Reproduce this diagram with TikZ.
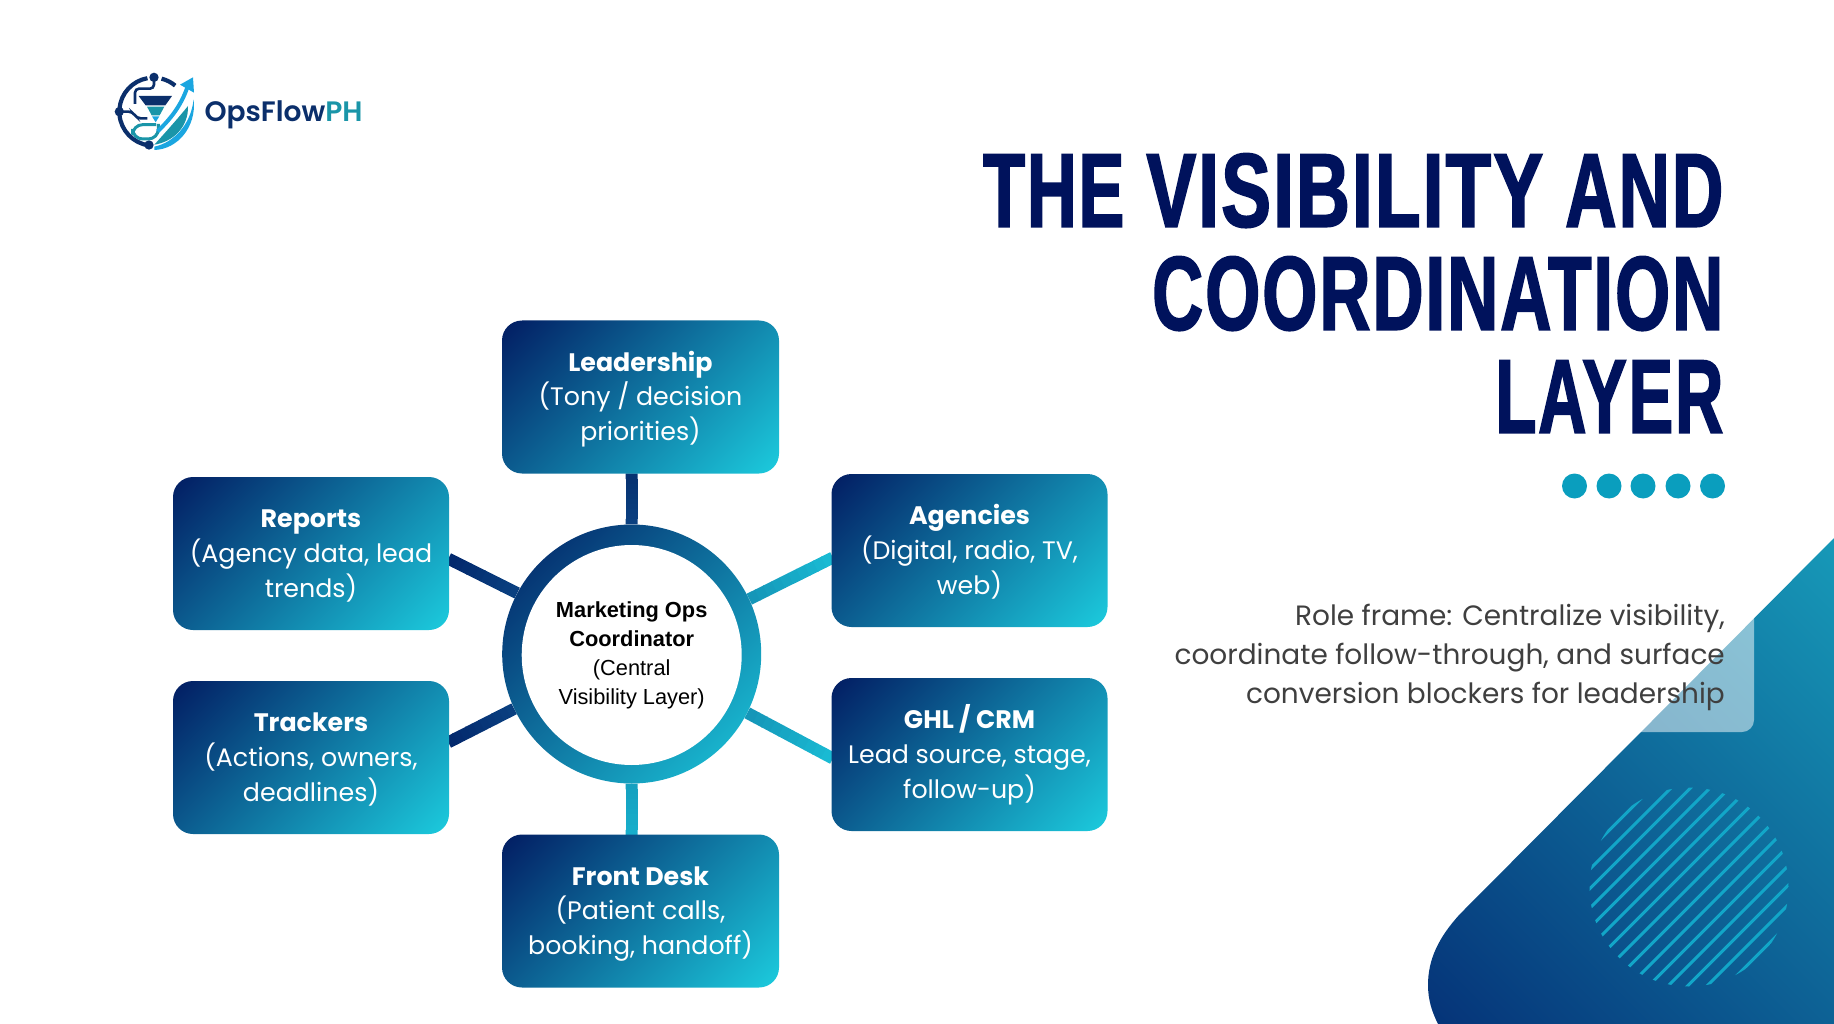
\documentclass[tikz,border=0pt]{standalone}
\usepackage{fontspec}
\usepackage{graphicx}
\usetikzlibrary{calc,backgrounds}
\setmainfont{Poppins}
\newfontfamily\titlefont[FakeStretch=0.687,FakeBold=1.6,LetterSpace=2]{Liberation Sans Bold}
\newfontfamily\hubfont{Liberation Sans}
\newfontfamily\logofont{Poppins SemiBold}
\definecolor{gdark}{HTML}{021C62}
\definecolor{gcyan}{HTML}{1CCCDE}
\definecolor{titleblue}{HTML}{00125C}
\definecolor{dotteal}{HTML}{0A9EBE}
\definecolor{bodygrey}{HTML}{3F3F3F}
\definecolor{bgdark}{HTML}{053378}
\definecolor{bglight}{HTML}{1799B8}
\definecolor{hatch}{HTML}{12A6C8}
\definecolor{logonavy}{HTML}{0B2F6B}
\definecolor{logoteal}{HTML}{1A95A8}
\definecolor{logocyan}{HTML}{1BA6E0}
\definecolor{lkA}{HTML}{0A4080}
\definecolor{lkB}{HTML}{06306F}
\definecolor{lkC}{HTML}{1596B8}
\definecolor{lkD}{HTML}{1ABED6}
\definecolor{lkE}{HTML}{02266B}
\definecolor{lkF}{HTML}{15A0C0}
\definecolor{lkG}{HTML}{18B0CC}
\tikzset{
  x=1pt,y=-1pt,
  gradbox/.style={shape=rectangle,rounded corners=20pt,inner sep=0pt,text=white,align=center,
    font=\fontsize{25.3}{34.8}\selectfont},
  hubring/.style={shape=circle,minimum size=259pt,inner sep=0pt},
  hubcore/.style={shape=circle,minimum size=220pt,inner sep=0pt,fill=white,text=black,align=center,
    font=\hubfont\fontsize{21.8}{29}\selectfont},
  linkline/.style={line width=12pt},
  dotnode/.style={shape=circle,minimum size=25pt,inner sep=0pt,fill=dotteal},
}
% 45-degree gradient from top-left to bottom-right of a rounded panel: cx,cy,w,h,radius
\newcommand\gradpanel[5]{%
  \begin{scope}
    \clip[rounded corners=#5] ({#1-#3/2},{#2-#4/2}) rectangle ({#1+#3/2},{#2+#4/2});
    \begin{scope}[transform canvas={shift={(#1,#2)},rotate=-45}]
      \pgfmathsetmacro\gA{(#3+#4)/2.8284}
      \shade[left color=gdark,right color=gcyan] (-\gA,-\gA) rectangle (\gA,\gA);
    \end{scope}
  \end{scope}}
\newcommand\gradbox[6]{%
  \gradpanel{#2}{#3}{#4}{#5}{20pt}
  \node[gradbox,minimum width=#4 pt,minimum height=#5 pt] (#1) at (#2,#3) {#6};}
\newcommand\gradlink[4]{\foreach \p in {0,10,...,90}{\draw[linkline,color=#4!\p!#3] ($(#1)!\p/100!(#2)$) -- ($(#1)!\p/100+0.11!(#2)$);}}
\newcommand\boxlabel[3]{\raisebox{-2pt}{\textbf{#1}}\strut\\\raisebox{-2pt}{#2}\\\raisebox{-2pt}{#3}\strut}
\begin{document}
\begin{tikzpicture}
\useasboundingbox (0,0) rectangle (1834,1024);
% background slab
\begin{scope}
  \clip (1834,538) -- (1460,914) .. controls (1438,938) and (1428,960) .. (1428,985)
  .. controls (1428,1000) and (1432,1012) .. (1438,1024) -- (1834,1024) -- cycle;
  \begin{scope}[transform canvas={shift={(1631,781)},rotate=45}]
    \shade[left color=bgdark,right color=bglight] (-315,-315) rectangle (315,315);
  \end{scope}
\end{scope}
\fill[white,opacity=.5,rounded corners=12pt] (1560,540) rectangle (1754,732);
\begin{scope}
  \clip (1689,887) circle (99.5);
  \foreach \k in {-7,...,7}{
    \draw[hatch,line width=3pt] ({1689+\k*9.75-150},{887+\k*9.75+150}) -- ({1689+\k*9.75+150},{887+\k*9.75-150});
  }
\end{scope}
% title and text
\node[anchor=north east,inner sep=0pt,align=right,text=titleblue,font=\titlefont\fontsize{105}{103}\selectfont] (title) at (1723.5,146.5)
  {\rule{0pt}{80pt}\scalebox{.95}[1]{THE} \scalebox{1.034}[1]{VISIBILITY} \scalebox{.985}[1]{AND}\\\scalebox{.98}[1]{COORDINATION}\\\scalebox{.925}[1]{LAYER}};
\foreach \i/\x in {1/1574.5,2/1609,3/1643,4/1678,5/1712.5}{\node[dotnode] (dot\i) at (\x,486) {};}
\node[anchor=north east,inner sep=0pt,align=right,text=bodygrey,font=\fontsize{27.95}{39}\selectfont] (roleframe) at (1725,595)
  {\rule{0pt}{30pt}Role frame: Centralize visibility,\\coordinate follow-through, and surface\\conversion blockers for leadership};
% hub and boxes
\gradpanel{631.7}{654}{259}{259}{129.5pt}
\node[hubring] (hub) at (631.7,654) {};
\node[hubcore] (hubcore) at (631.7,655) {\textbf{Marketing Ops}\\\textbf{Coordinator}\\(Central\\Visibility Layer)};
\gradbox{leadership}{640.5}{397}{277}{153}{\boxlabel{Leadership}{(Tony / decision}{priorities)}}
\gradbox{agencies}{969.5}{550.5}{276}{153}{\boxlabel{Agencies}{(Digital, radio, TV,}{web)}}
\gradbox{ghl}{969.5}{754.5}{276}{153}{\boxlabel{GHL / CRM}{Lead source, stage,}{follow-up)}}
\gradbox{reports}{311}{553.5}{276}{153}{\boxlabel{Reports}{(Agency data, lead}{trends)}}
\gradbox{trackers}{311}{757.5}{276}{153}{\boxlabel{Trackers}{(Actions, owners,}{deadlines)}}
\gradbox{frontdesk}{640.5}{911}{277}{153}{\boxlabel{Front Desk}{(Patient calls,}{booking, handoff)}}
\coordinate (pLead) at (631.7,474);
\coordinate (pAg) at (832,558);
\coordinate (pGhl) at (832,758);
\coordinate (pRep) at (449,559);
\coordinate (pTrk) at (449,742);
\coordinate (pFd) at (631.7,835);
\begin{scope}[on background layer]
  \gradlink{hub.north}{pLead}{lkA}{lkB}
  \gradlink{hub.25.8}{pAg}{lkC}{lkD}
  \gradlink{hub.-27.9}{pGhl}{lkC}{lkD}
  \gradlink{hub.152.8}{pRep}{lkA}{lkE}
  \gradlink{hub.205.6}{pTrk}{lkA}{lkE}
  \gradlink{hub.south}{pFd}{lkF}{lkG}
\end{scope}
% logo
\begin{scope}[shift={(90,50)},scale=1/3]
  \begin{scope}[logonavy,line width=4.2pt]
    \draw ({190+102*cos(100)},{185-102*sin(100)}) arc[start angle=-100,end angle=-175,radius=102];
    \draw ({190+102*cos(185)},{185-102*sin(185)}) arc[start angle=-185,end angle=-262,radius=102];
    \draw ({190+102*cos(76)},{185-102*sin(76)}) arc[start angle=-76,end angle=-50,radius=102];
    \fill (192,82) circle (14);
    \fill (88,185) circle (14);
    \fill (177,285) circle (14);
    \draw[line width=2.6pt,rounded corners=4pt] (192,82) -- (192,116) -- (135,116) -- (135,162);
    \draw[line width=2.6pt,rounded corners=4pt] (88,185) -- (128,185) -- (140,205) -- (172,205);
  \end{scope}
  \fill[logonavy] (146,138) -- (246,138) -- (226,166) -- (167,166) -- cycle;
  \fill[logoteal] (171,170) -- (223,170) -- (209,196) -- (185,196) -- cycle;
  \fill[logocyan] (186,199) -- (208,199) -- (197,217) -- cycle;
  \draw[logoteal,line width=3pt,rounded corners=10pt] (198,224) -- (128,224) -- (128,267) -- (205,267) -- (205,222);
  \fill[logoteal] (193,284) .. controls (240,232) and (268,200) .. (294,168) .. controls (296,232) and (248,276) .. (193,284) -- cycle;
  \fill[logocyan] (193,300) .. controls (262,298) and (320,232) .. (311,148) .. controls (302,226) and (250,278) .. (193,290) -- cycle;
  \draw[logocyan,line width=4pt] (203,244) .. controls (240,208) and (272,170) .. (292,112);
  \fill[logocyan] (270,104) -- (309,82) -- (312,128) -- cycle;
  \node[anchor=base west,inner sep=0pt,font=\logofont\fontsize{28.1}{30}\selectfont] (logotext) at (343,215)
    {\textcolor{logonavy}{OpsFlow}\textcolor{logoteal}{PH}};
\end{scope}
\end{tikzpicture}
\end{document}
